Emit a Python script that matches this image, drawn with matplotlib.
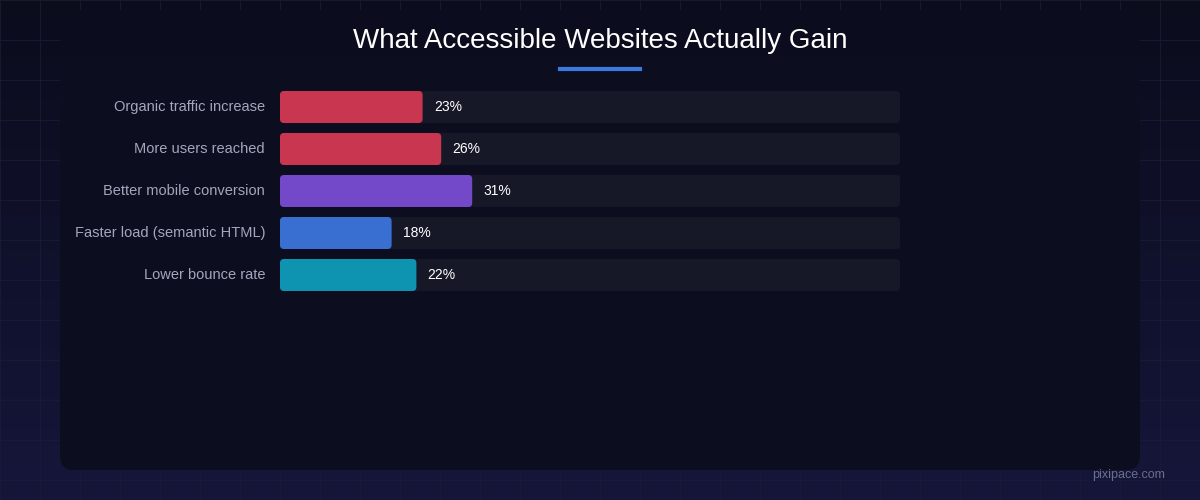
import matplotlib.pyplot as plt
from matplotlib.patches import FancyBboxPatch
import numpy as np

plt.rcParams['font.family'] = ['Liberation Sans', 'DejaVu Sans']

categories = ['Organic traffic increase', 'More users reached', 'Better mobile conversion',
              'Faster load (semantic HTML)', 'Lower bounce rate']
values = [23, 26, 31, 18, 22]
colors = ['#c8374f', '#c8374f', '#7349c9', '#3a6fd2', '#0e94b1']

W, H = 1200, 500
fig = plt.figure(figsize=(12, 5), dpi=100)
fig.patch.set_facecolor('#0c0d1f')

# background with faint grid and card
bg = fig.add_axes([0, 0, 1, 1])
bg.set_xlim(0, W)
bg.set_ylim(H, 0)
bg.axis('off')
grad = np.linspace(0, 1, 100).reshape(-1, 1)
bg.imshow(grad, extent=[0, W, H, 0], cmap=plt.matplotlib.colors.LinearSegmentedColormap.from_list(
    'g', ['#0b0c1c', '#15163a']), aspect='auto', zorder=0)
for gx in range(0, W, 40):
    bg.axvline(gx, color='#1a1c36', lw=0.6, zorder=1)
for gy in range(0, H, 40):
    bg.axhline(gy, color='#1a1c36', lw=0.6, zorder=1)
bg.add_patch(FancyBboxPatch((60, 10), 1080, 460, boxstyle='round,pad=0,rounding_size=14',
                            fc='#0c0d1e', ec='none', alpha=0.96, zorder=2))
bg.text(600, 41, 'What Accessible Websites Actually Gain', color='white', fontsize=20,
        ha='center', va='center', zorder=3)
bg.plot([560, 640], [69, 69], color='#3b78e0', lw=3, zorder=3)
bg.text(1165, 475, 'pixipace.com', color='#6c6f88', fontsize=9, ha='right', va='center', zorder=3)

# bars
ax = fig.add_axes([280 / W, (H - 291) / H, 620 / W, 200 / H])
ax.set_facecolor('none')
ax.axis('off')
half = 16 / 42
ax.set_xlim(0, 100)
ax.set_ylim(len(values) - 1 + half, -half)
aspect = ((len(values) - 1 + 2 * half) / 200) / (100 / 620)
rx = 4 * 100 / 620
for i, (cat, v, c) in enumerate(zip(categories, values, colors)):
    ax.add_patch(FancyBboxPatch((0, i - half), 100, 2 * half,
                                boxstyle=f'round,pad=0,rounding_size={rx}',
                                mutation_aspect=aspect, fc='#161827', ec='none'))
    ax.add_patch(FancyBboxPatch((0, i - half), v, 2 * half,
                                boxstyle=f'round,pad=0,rounding_size={rx}',
                                mutation_aspect=aspect, fc=c, ec='none'))
    ax.text(v + 1.8, i, f'{v}%', color='white', fontsize=10, va='center', ha='left')
    ax.text(-2.4, i, cat, color='#a3a7bd', fontsize=10.5, va='center', ha='right')

fig.savefig('out.png', dpi=100, facecolor=fig.get_facecolor())
